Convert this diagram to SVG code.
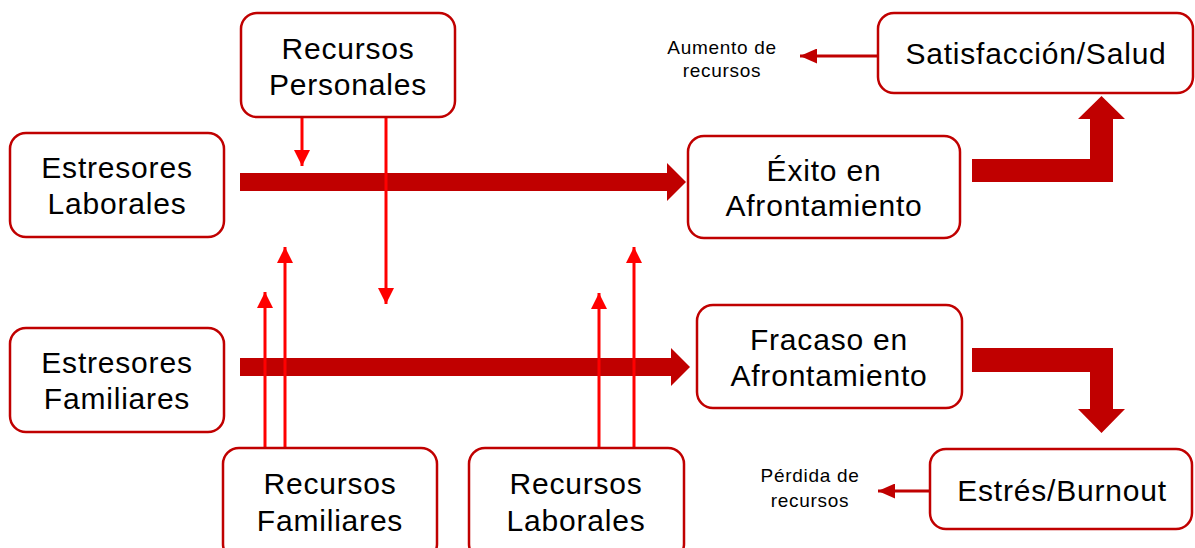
<svg xmlns="http://www.w3.org/2000/svg" width="1195" height="548" viewBox="0 0 1195 548">
<style>
.box{fill:#fff;stroke:#C00000;stroke-width:2.5}
.t{font-family:"Liberation Sans",Arial,sans-serif;font-size:30px;letter-spacing:0.8px;fill:#000;text-anchor:middle}
.s{font-family:"Liberation Sans",Arial,sans-serif;font-size:19px;letter-spacing:0.7px;fill:#000;text-anchor:middle}
.thick{fill:#C00000}
.thin{stroke:#FF0000;stroke-width:3;fill:none}
.dk{stroke:#C00000;stroke-width:3;fill:none}
</style>
<defs>
<marker id="ah" markerUnits="userSpaceOnUse" markerWidth="16" markerHeight="16" viewBox="0 0 16 16" refX="16" refY="8" orient="auto"><path d="M0,0 L16,8 L0,16 Z" fill="#FF0000"/></marker>
<marker id="ahd" markerUnits="userSpaceOnUse" markerWidth="17" markerHeight="15" viewBox="0 0 17 15" refX="17" refY="7.5" orient="auto"><path d="M0,0 L17,7.5 L0,15 Z" fill="#C00000"/></marker>
</defs>
<g id="connectors">
<polygon class="thick" points="240,173 667,173 667,163 686,182 667,201 667,191 240,191"/>
<polygon class="thick" points="240,358 671,358 671,348 690,367 671,386 671,376 240,376"/>
<polygon class="thick" points="972,159 1090,159 1090,119 1078,119 1101.5,96 1125,119 1113,119 1113,182 972,182"/>
<polygon class="thick" points="972,348 1113,348 1113,409 1125,409 1101.5,433 1078,409 1090,409 1090,372 972,372"/>
<line class="thin" x1="302" y1="117" x2="302" y2="166" marker-end="url(#ah)"/>
<line class="thin" x1="386" y1="117" x2="386" y2="304" marker-end="url(#ah)"/>
<line class="thin" x1="265" y1="449" x2="265" y2="292" marker-end="url(#ah)"/>
<line class="thin" x1="285" y1="457" x2="285" y2="247" marker-end="url(#ah)"/>
<line class="thin" x1="599" y1="449" x2="599" y2="293" marker-end="url(#ah)"/>
<line class="thin" x1="634" y1="457" x2="634" y2="247" marker-end="url(#ah)"/>
<line class="dk" x1="878" y1="56" x2="800" y2="56" marker-end="url(#ahd)"/>
<line class="dk" x1="930" y1="491" x2="878" y2="491" marker-end="url(#ahd)"/>
</g>
<g id="recursos-personales"><rect class="box" x="241" y="13" width="214" height="104" rx="16"/><text class="t" x="348" y="59">Recursos</text><text class="t" x="348" y="95">Personales</text></g>
<g id="estresores-laborales"><rect class="box" x="10" y="133" width="214" height="104" rx="16"/><text class="t" x="117" y="178">Estresores</text><text class="t" x="117" y="214">Laborales</text></g>
<g id="estresores-familiares"><rect class="box" x="10" y="328" width="214" height="104" rx="16"/><text class="t" x="117" y="373">Estresores</text><text class="t" x="117" y="409">Familiares</text></g>
<g id="exito"><rect class="box" x="688" y="136" width="272" height="102" rx="16"/><text class="t" x="824" y="181">Éxito en</text><text class="t" x="824" y="216">Afrontamiento</text></g>
<g id="fracaso"><rect class="box" x="697" y="305" width="265" height="103" rx="16"/><text class="t" x="829" y="350">Fracaso en</text><text class="t" x="829" y="386">Afrontamiento</text></g>
<g id="satisfaccion"><rect class="box" x="878" y="13" width="315" height="80" rx="16"/><text class="t" x="1036" y="64">Satisfacción/Salud</text></g>
<g id="estres"><rect class="box" x="930" y="449" width="262" height="80" rx="16"/><text class="t" x="1062" y="501">Estrés/Burnout</text></g>
<g id="recursos-familiares"><rect class="box" x="223" y="448" width="214" height="112" rx="16"/><text class="t" x="330" y="494">Recursos</text><text class="t" x="330" y="531">Familiares</text></g>
<g id="recursos-laborales"><rect class="box" x="469" y="448" width="215" height="112" rx="16"/><text class="t" x="576" y="494">Recursos</text><text class="t" x="576" y="531">Laborales</text></g>
<g id="aumento"><text class="s" x="722" y="54">Aumento de</text><text class="s" x="722" y="77">recursos</text></g>
<g id="perdida"><text class="s" x="810" y="482">Pérdida de</text><text class="s" x="810" y="507">recursos</text></g>
</svg>
